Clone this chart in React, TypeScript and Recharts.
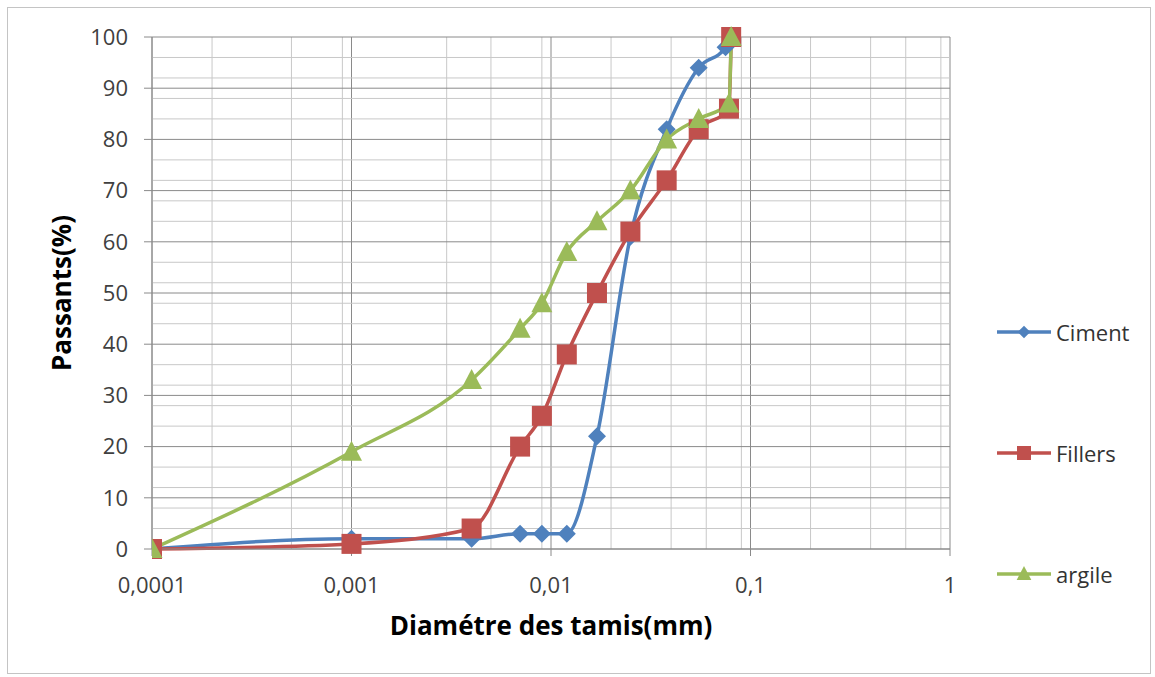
import React from 'react';
import { ComposedChart, Line, XAxis, YAxis, CartesianGrid, ReferenceLine, Label } from 'recharts';

// ---- data ----
const cimentX = [0.0001, 0.001, 0.004, 0.007, 0.009, 0.012, 0.017, 0.025, 0.038, 0.055, 0.075, 0.08];
const cimentY = [0, 2, 2, 3, 3, 3, 22, 61, 82, 94, 98, 100];

const fillersX = [0.0001, 0.001, 0.004, 0.007, 0.009, 0.012, 0.017, 0.025, 0.038, 0.055, 0.078, 0.08];
const fillersY = [0, 1, 4, 20, 26, 38, 50, 62, 72, 82, 86, 100];

const argileX = [0.0001, 0.001, 0.004, 0.007, 0.009, 0.012, 0.017, 0.025, 0.038, 0.055, 0.078, 0.08];
const argileY = [0, 19, 33, 43, 48, 58, 64, 70, 80, 84, 87, 100];

const xTicks = [0.0001, 0.001, 0.01, 0.1, 1];
const yTicks = [0, 10, 20, 30, 40, 50, 60, 70, 80, 90, 100];
const minorMultipliers = [2, 3, 4, 5, 6, 7, 8, 9];
const yMinor = [4, 8, 12, 16, 24, 28, 32, 36, 44, 48, 52, 56, 64, 68, 72, 76, 84, 88, 92, 96];

const xMinor: number[] = [];
xTicks.slice(0, 4).forEach((d) => minorMultipliers.forEach((m) => xMinor.push(+(d * m).toPrecision(3))));

const zip = (xs: number[], ys: number[]) => xs.map((x, i) => ({ x, y: ys[i] }));

const series = [
  { name: 'Ciment', color: '#4F81BD', shape: 'diamond', data: zip(cimentX, cimentY) },
  { name: 'Fillers', color: '#C0504D', shape: 'square', data: zip(fillersX, fillersY) },
  { name: 'argile', color: '#9BBB59', shape: 'triangle', data: zip(argileX, argileY) },
];

const FONT = '"Open Sans", "DejaVu Sans", sans-serif';
const MINOR = '#c8c8c8';
const MAJOR = '#8a8a8a';

function Marker({ shape, cx, cy, color, k = 1 }: any) {
  if (cx == null || cy == null) return null;
  if (shape === 'diamond') {
    const s = 9 * k;
    return <polygon points={`${cx},${cy - s} ${cx + s},${cy} ${cx},${cy + s} ${cx - s},${cy}`} fill={color} />;
  }
  if (shape === 'square') {
    const s = 10 * k;
    return <rect x={cx - s} y={cy - s} width={2 * s} height={2 * s} fill={color} />;
  }
  const w = 10.5 * k;
  const h = 10 * k;
  return <polygon points={`${cx},${cy - h - 1} ${cx + w},${cy + h - 1} ${cx - w},${cy + h - 1}`} fill={color} />;
}

export default function App() {
  return (
    <div style={{ position: 'absolute', left: 0, top: 0, width: 1155, height: 677, background: '#fff', fontFamily: FONT }}>
      <div style={{ position: 'absolute', left: 7, top: 7, width: 1142, height: 665, border: '1px solid #c4c4c4' }} />
      <div style={{ position: 'absolute', left: 0, top: 0 }}>
        <ComposedChart width={1155} height={677} margin={{ top: 37, right: 205, left: 92, bottom: 88 }}>
          <CartesianGrid stroke={MINOR} strokeWidth={1} horizontal={false} verticalValues={xMinor} />
          {yMinor.map((v) => (
            <ReferenceLine key={`ym${v}`} y={v} stroke={MINOR} strokeWidth={1} />
          ))}
          <CartesianGrid stroke={MAJOR} strokeWidth={1} verticalValues={xTicks} />
          <XAxis
            type="number"
            dataKey="x"
            scale="log"
            domain={[0.0001, 1]}
            ticks={xTicks}
            allowDataOverflow
            height={40}
            tickSize={7}
            tickMargin={21}
            axisLine={{ stroke: MAJOR }}
            tickLine={{ stroke: MAJOR }}
            tick={{ fontSize: 22, fill: '#404040', fontFamily: FONT }}
            tickFormatter={(v: number) => String(v).replace('.', ',')}
          >
            <Label
              value="Diamétre des tamis(mm)"
              position="bottom"
              offset={28}
              style={{ fontSize: 26, fontWeight: 700, fill: '#000', fontFamily: FONT }}
            />
          </XAxis>
          <YAxis
            type="number"
            domain={[0, 100]}
            ticks={yTicks}
            width={60}
            tickSize={8}
            tickMargin={16}
            axisLine={{ stroke: MAJOR }}
            tickLine={{ stroke: MAJOR }}
            tick={{ fontSize: 22, fill: '#404040', fontFamily: FONT }}
          >
            <Label
              value="Passants(%)"
              angle={-90}
              position="left"
              offset={30}
              style={{ fontSize: 26, fontWeight: 700, fill: '#000', fontFamily: FONT, textAnchor: 'middle' }}
            />
          </YAxis>
          {series.map((s) => (
            <Line
              key={s.name}
              data={s.data}
              dataKey="y"
              name={s.name}
              type="monotone"
              stroke={s.color}
              strokeWidth={3.5}
              isAnimationActive={false}
              activeDot={false}
              dot={(p: any) => <Marker key={`${s.name}-${p.index}`} shape={s.shape} cx={p.cx} cy={p.cy} color={s.color} />}
            />
          ))}
        </ComposedChart>
      </div>
      {series.map((s, i) => (
        <div key={s.name} style={{ position: 'absolute', left: 995, top: 318 + i * 121, height: 28, display: 'flex', alignItems: 'center' }}>
          <svg width={58} height={28} style={{ display: 'block' }}>
            <line x1={2} y1={14} x2={56} y2={14} stroke={s.color} strokeWidth={3.5} />
            <Marker shape={s.shape} cx={29} cy={14} color={s.color} k={0.7} />
          </svg>
          <span style={{ fontSize: 22, color: '#333', marginLeft: 3, lineHeight: '28px', fontFamily: FONT }}>{s.name}</span>
        </div>
      ))}
    </div>
  );
}
